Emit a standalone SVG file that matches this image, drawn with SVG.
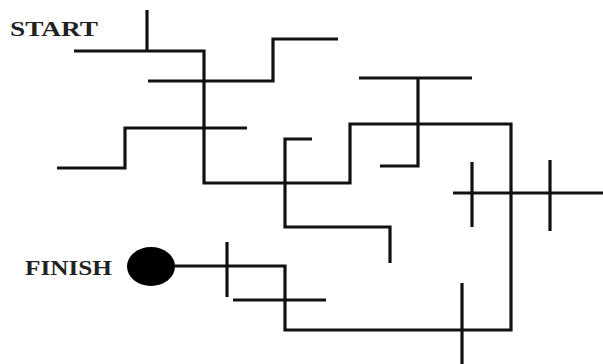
<svg xmlns="http://www.w3.org/2000/svg" width="603" height="364" viewBox="0 0 603 364">
<style>
.w{fill:none;stroke:#111;stroke-width:3.2;stroke-linecap:butt;stroke-linejoin:miter}
.lbl{font-family:"Liberation Serif","Times New Roman",serif;font-weight:bold;font-size:21px;fill:#222}
</style>
<rect width="603" height="364" fill="#fff"/>
<g id="start"><text class="lbl" x="10" y="35.5" textLength="88" lengthAdjust="spacingAndGlyphs">START</text></g>
<g id="finish"><text class="lbl" x="25" y="275" textLength="87" lengthAdjust="spacingAndGlyphs">FINISH</text></g>
<g id="finish-dot"><ellipse cx="151" cy="266.5" rx="24" ry="19.5" fill="#000"/></g>
<g id="connectors">
<polyline class="w" points="74,51 204,51 204,183 350,183 350,124 511,124 511,330 285,330 285,266 175,266"/>
<line class="w" x1="147" y1="10" x2="147" y2="51"/>
<polyline class="w" points="148,81 273,81 273,39 338,39"/>
<polyline class="w" points="247,128 125,128 125,168 57,168"/>
<polyline class="w" points="312,139 285,139 285,227 390,227 390,263"/>
<line class="w" x1="359" y1="78" x2="472" y2="78"/>
<polyline class="w" points="418,78 418,166 380,166"/>
<line class="w" x1="453" y1="193" x2="603" y2="193"/>
<line class="w" x1="472" y1="162" x2="472" y2="227"/>
<line class="w" x1="550" y1="160" x2="550" y2="231"/>
<line class="w" x1="227" y1="242" x2="227" y2="297"/>
<line class="w" x1="233" y1="300" x2="326" y2="300"/>
<line class="w" x1="462" y1="283" x2="462" y2="364"/>
</g>
</svg>
